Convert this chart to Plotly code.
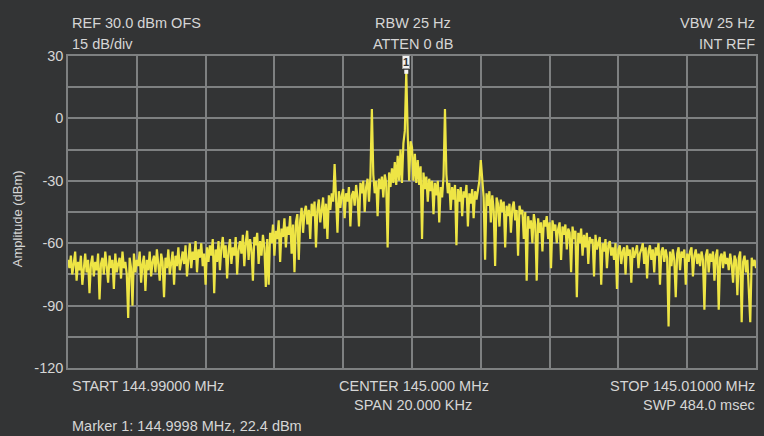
import plotly.graph_objects as go

# Sweep settings (MHz)
start_mhz = 144.99
stop_mhz = 145.01
n_points = 481

amp_dbm = [
    -68, -72, -66, -75, -70, -64, -78, -69, -73, -66, -80, -71, -65, -74, -68, -84, -70, -66, -76, -69,
    -73, -65, -87, -70, -67, -75, -64, -71, -79, -66, -72, -68, -82, -65, -74, -70, -67, -77, -64, -72,
    -69, -75, -96, -67, -72, -90, -65, -74, -68, -71, -64, -79, -70, -66, -83, -68, -73, -64, -76, -69,
    -66, -74, -63, -70, -78, -65, -69, -86, -67, -72, -63, -75, -68, -64, -80, -66, -71, -62, -73, -67,
    -64, -70, -61, -76, -66, -60, -72, -64, -68, -59, -74, -63, -67, -60, -71, -65, -80, -62, -69, -61,
    -66, -58, -84, -63, -69, -59, -73, -62, -57, -67, -61, -77, -64, -58, -70, -62, -66, -57, -75, -63,
    -59, -65, -56, -71, -60, -54, -68, -58, -63, -78, -57, -61, -55, -70, -59, -66, -56, -62, -81, -58,
    -80, -55, -60, -51, -66, -54, -58, -49, -69, -53, -57, -48, -62, -52, -56, -47, -65, -51, -74, -50,
    -46, -68, -49, -43, -55, -45, -42, -51, -44, -58, -41, -47, -40, -62, -44, -39, -50, -42, -38, -53,
    -41, -58, -37, -44, -36, -40, -22, -38, -55, -35, -43, -37, -34, -48, -36, -40, -33, -52, -37, -35,
    -42, -32, -38, -52, -31, -36, -30, -45, -33, -29, -40, -28, 4.5, -27, -36, -30, -47, -29, -34, -28,
    -38, -27, -31, -62, -26, -33, -24, -31, -21, -32, -18, -30, -15, -31, -12, -6, 22.4, -7, -30, -11,
    -14, -30, -17, -31, -20, -32, -23, -58, -26, -34, -28, -40, -29, -35, -30, -46, -31, -37, -30, -50,
    -33, -38, -28, 4.5, -27, -36, -31, -44, -33, -39, -32, -61, -34, -40, -33, -47, -35, -38, -32, -52,
    -36, -41, -34, -48, -35, -39, -33, -30, -20, -31, -38, -68, -36, -42, -35, -50, -37, -44, -71, -38,
    -41, -52, -39, -45, -40, -62, -42, -47, -41, -55, -43, -40, -49, -44, -66, -42, -46, -44, -58, -45,
    -78, -47, -53, -49, -60, -46, -51, -78, -48, -55, -50, -64, -49, -52, -47, -58, -50, -72, -49, -54,
    -51, -60, -53, -50, -68, -52, -56, -51, -63, -53, -55, -74, -52, -58, -54, -86, -55, -60, -53, -66,
    -56, -62, -55, -70, -57, -60, -58, -76, -56, -63, -59, -57, -80, -60, -64, -58, -72, -61, -59, -66,
    -62, -68, -60, -82, -63, -61, -70, -64, -62, -75, -61, -66, -63, -79, -62, -67, -64, -61, -72, -65,
    -63, -60, -70, -62, -77, -64, -61, -68, -63, -74, -62, -66, -60, -80, -64, -62, -69, -63, -67, -100,
    -64, -71, -63, -68, -86, -65, -62, -73, -64, -67, -63, -80, -65, -69, -64, -62, -76, -66, -63, -70,
    -65, -71, -64, -68, -92, -66, -63, -74, -65, -69, -64, -78, -66, -63, -92, -67, -65, -72, -64, -70,
    -67, -73, -65, -70, -79, -66, -68, -85, -67, -64, -98, -69, -66, -74, -68, -82, -98, -67, -71, -68,
    -72,
]
assert len(amp_dbm) == n_points

step = (stop_mhz - start_mhz) / (n_points - 1)
freq_mhz = [start_mhz + i * step for i in range(n_points)]

marker_idx = amp_dbm.index(max(amp_dbm))
marker_freq = freq_mhz[marker_idx]
marker_amp = amp_dbm[marker_idx]

y_tickvals = [-120, -105, -90, -75, -60, -45, -30, -15, 0, 15, 30]
y_ticktext = ["-120", "", "-90", "", "-60", "", "-30", "", "0", "", "30"]

header_left = ["REF 30.0 dBm OFS", "15 dB/div"]
header_mid = ["RBW 25 Hz", "ATTEN 0 dB"]
header_right = ["VBW 25 Hz", "INT REF"]
footer_left = ["START 144.99000 MHz"]
footer_mid = ["CENTER 145.000 MHz", "SPAN 20.000 KHz"]
footer_right = ["STOP 145.01000 MHz", "SWP 484.0 msec"]
marker_text = "Marker 1: 144.9998 MHz, 22.4 dBm"

BG = "#333435"
GRID = "#7e8081"
TXT = "#d6d6d6"
TRACE = "#eee545"
FONT = "Liberation Sans, Arial, sans-serif"
FS = 14.5

fig = go.Figure()
fig.add_trace(go.Scatter(
    x=freq_mhz, y=amp_dbm, mode="lines",
    line=dict(color=TRACE, width=2.2),
    hoverinfo="skip", showlegend=False,
))
fig.add_trace(go.Scatter(
    x=[marker_freq], y=[marker_amp], mode="markers",
    marker=dict(color="#f4f4f4", size=4, symbol="square"),
    hoverinfo="skip", showlegend=False,
))

W, H = 764, 436
L, R, T, B = 68, 6, 56, 68
pw, ph = W - L - R, H - T - B


def px(xp):
    return (xp - L) / pw


def py(yp):
    return (H - B - yp) / ph


ann = []
def add(text, x, y, xanchor, size=FS):
    ann.append(dict(text=text, x=px(x), y=py(y), xref="paper", yref="paper",
                    xanchor=xanchor, yanchor="middle", showarrow=False,
                    font=dict(family=FONT, size=size, color=TXT)))

add(header_left[0], 70, 23, "left")
add(header_left[1], 70, 44, "left")
add(header_mid[0], 414, 23, "center")
add(header_mid[1], 414, 44, "center")
add(header_right[0], 759, 23, "right")
add(header_right[1], 759, 44, "right")
add(footer_left[0], 70, 386, "left")
add(footer_mid[0], 415, 386, "center")
add(footer_mid[1], 414, 405, "center")
add(footer_right[0], 759, 386, "right")
add(footer_right[1], 759, 405, "right")
add(marker_text, 70, 426, "left")

ann.append(dict(text="Amplitude (dBm)", x=px(18), y=py(219), xref="paper", yref="paper",
                xanchor="center", yanchor="middle", textangle=-90, showarrow=False,
                font=dict(family=FONT, size=13, color=TXT)))

ann.append(dict(text="<b>1</b>", x=marker_freq, y=marker_amp, xref="x", yref="y",
                xanchor="center", yanchor="bottom", yshift=3, showarrow=False,
                bgcolor="#f2f2f2", bordercolor="#9a9a9a", borderwidth=1, borderpad=0,
                font=dict(family=FONT, size=11, color="#333333")))

fig.update_layout(
    width=W, height=H,
    margin=dict(l=L, r=R, t=T, b=B),
    paper_bgcolor=BG, plot_bgcolor=BG,
    annotations=ann,
    xaxis=dict(range=[start_mhz, stop_mhz], tick0=start_mhz, dtick=0.002,
               showticklabels=False, showgrid=True, gridcolor=GRID, gridwidth=1.5,
               zeroline=False, showline=True, linecolor=GRID, linewidth=1.5, mirror=True,
               ticks=""),
    yaxis=dict(range=[-120, 30], tickmode="array", tickvals=y_tickvals, ticktext=y_ticktext,
               showgrid=True, gridcolor=GRID, gridwidth=1.5, zeroline=False,
               showline=True, linecolor=GRID, linewidth=1.5, mirror=True, ticks="",
               tickfont=dict(family=FONT, size=FS, color=TXT)),
)

fig.write_html("out.html", config={"displayModeBar": False})

# remove the default page margin so the figure sits at the window's top-left corner
with open("out.html", encoding="utf-8") as f:
    page = f.read()
page = page.replace("<head>", "<head><style>html,body{margin:0;padding:0;overflow:hidden;background:#333435}</style>", 1)
with open("out.html", "w", encoding="utf-8") as f:
    f.write(page)
